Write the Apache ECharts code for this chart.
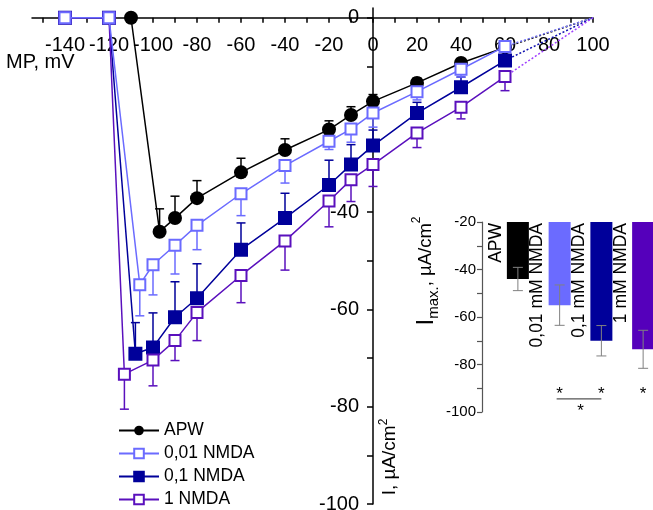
<!DOCTYPE html>
<html><head><meta charset="utf-8">
<script src="https://cdn.jsdelivr.net/npm/echarts@6/dist/echarts.min.js"></script>
<style>html,body{margin:0;padding:0;background:#fff}#c{width:653px;height:510px}</style>
</head><body><div id="c"></div>
<script>
// ---- data ----
const seriesNames = ['APW', '0,01 NMDA', '0,1 NMDA', '1 NMDA'];
const seriesColors = ['#000000', '#6b6bff', '#00009a', '#5a10bd'];
const dottedColors = ['#000000', '#7a7aff', '#1010b0', '#a040ff'];

const apwX   = [-110, -97, -90, -80, -60, -40, -20, -10, 0, 20, 40, 60];
const apwY   = [0, -44.0, -41.2, -37.1, -31.8, -27.2, -23.0, -20.0, -17.2, -13.4, -9.3, -6.1];
const apwErr = [0, 4.7, 4.5, 3.6, 2.9, 2.3, 1.8, 1.7, 1.4, 1.0, 0.9, 0.8];   // upward

const n001X   = [-140, -120, -106, -100, -90, -80, -60, -40, -20, -10, 0, 20, 40, 60];
const n001Y   = [0, 0, -54.9, -50.8, -46.8, -42.7, -36.2, -30.4, -25.4, -22.9, -19.6, -15.2, -10.6, -5.9];
const n001Err = [0, 0, 6.4, 6.2, 5.9, 5.0, 4.5, 3.6, 1.7, 2.7, 2.9, 1.7, 1.6, 1.2]; // downward

const n01X   = [-140, -120, -108, -100, -90, -80, -60, -40, -20, -10, 0, 20, 40, 60];
const n01Y   = [0, 0, -69.1, -67.8, -61.6, -57.7, -47.7, -41.2, -34.4, -30.2, -26.3, -19.6, -14.3, -8.8];
const n01Err = [0, 0, 6.4, 7.1, 7.3, 7.1, 5.5, 5.1, 5.1, 4.1, 3.2, 2.2, 2.1, 1.8]; // upward

const n1X   = [-140, -120, -113, -100, -90, -80, -60, -40, -20, -10, 0, 20, 40, 60];
const n1Y   = [0, 0, -73.3, -70.4, -66.4, -60.6, -53.0, -45.9, -37.7, -33.3, -30.2, -23.7, -18.4, -12.1];
const n1Err = [0, 0, 7.2, 5.3, 4.1, 5.8, 5.6, 6.0, 5.3, 4.5, 4.5, 3.0, 2.4, 2.9]; // downward

const reversalPotential = 100; // extrapolated zero-current point (mV)

const xMin = -155, xMax = 100, yMin = -100, yMax = 2;
const xTickLabels = [-140, -120, -100, -80, -60, -40, -20, 0, 20, 40, 60, 80, 100];
const xTicks = [-150, -140, -130, -120, -110, -100, -90, -80, -70, -60, -50, -40, -30, -20, -10, 0, 10, 20, 30, 40, 50, 60, 70, 80, 90, 100];
const yTickLabels = [-100, -80, -60, -40, 0];
const yTicks = [-100, -90, -80, -70, -60, -50, -40, -30, -20, -10, 0];

const imaxCats = ['APW', '0,01 mM NMDA', '0,1 mM NMDA', '1 mM NMDA'];
const imaxVals = [-44, -55, -70, -73.6];
const imaxErr  = [4.9, 8.5, 6.4, 8.0];
const imaxColors = ['#000000', '#6b6bff', '#00009a', '#5500bb'];
const inTickLabels = [-100, -80, -60, -40, -20];
const inTicks = [-100, -90, -80, -70, -60, -50, -40, -30, -20];

// ---- build ----
const FONT = 'Liberation Sans, Arial, sans-serif';
const W = 653, H = 510;
const G0 = { left: 32, right: 60, top: 8, bottom: 6 };
const g0w = W - G0.left - G0.right, g0h = H - G0.top - G0.bottom;
const yAxisShift = g0w * (0 - xMin) / (xMax - xMin);   // y axis sits at x = 0
const xAxisShift = g0h * (yMax - 0) / (yMax - yMin);   // x axis sits at y = 0

const zip = (a, b, c) => a.map((v, i) => c ? [v, b[i], c[i]] : [v, b[i]]);

function errRender(dir, color) {
  return function (params, api) {
    const x = api.value(0), y = api.value(1), e = api.value(2);
    if (!e) return null;
    const p0 = api.coord([x, y]);
    const p1 = api.coord([x, y + dir * e]);
    return {
      type: 'group', children: [
        { type: 'line', shape: { x1: p0[0], y1: p0[1], x2: p1[0], y2: p1[1] }, style: { stroke: color, lineWidth: 1.5 } },
        { type: 'line', shape: { x1: p1[0] - 4.5, y1: p1[1], x2: p1[0] + 4.5, y2: p1[1] }, style: { stroke: color, lineWidth: 1.5 } }
      ]
    };
  };
}

const groups = [
  { name: seriesNames[0], x: apwX, y: apwY, e: apwErr, dir: 1, symbol: 'circle', size: 14, fill: seriesColors[0] },
  { name: seriesNames[1], x: n001X, y: n001Y, e: n001Err, dir: -1, symbol: 'rect', size: 11, fill: '#ffffff' },
  { name: seriesNames[2], x: n01X, y: n01Y, e: n01Err, dir: 1, symbol: 'rect', size: 12, fill: seriesColors[2] },
  { name: seriesNames[3], x: n1X, y: n1Y, e: n1Err, dir: -1, symbol: 'rect', size: 11, fill: '#ffffff' }
];

const series = [];
const order = [0, 2, 3, 1]; // light blue drawn on top
order.forEach((gi, k) => {
  const g = groups[gi];
  const col = seriesColors[gi];
  series.push({
    type: 'custom', xAxisIndex: 0, yAxisIndex: 0, z: 2 + k * 3,
    renderItem: errRender(g.dir, col),
    encode: { x: 0, y: 1 },
    data: zip(g.x, g.y, g.e), silent: true
  });
  const last = g.x.length - 1;
  series.push({
    type: 'line', xAxisIndex: 0, yAxisIndex: 0, z: 2 + k * 3,
    data: [[g.x[last], g.y[last]], [reversalPotential, 0]],
    symbol: 'none', silent: true,
    lineStyle: { color: dottedColors[gi], width: 1.5, type: [2, 2] }
  });
  series.push({
    name: g.name, type: 'line', xAxisIndex: 0, yAxisIndex: 0, z: 3 + k * 3,
    data: zip(g.x, g.y),
    symbol: g.symbol, symbolSize: g.size,
    lineStyle: { color: col, width: 1.5 },
    itemStyle: { color: g.fill, borderColor: col, borderWidth: g.symbol === 'circle' ? 0 : 2 },
    color: col
  });
});

// inset
series.push({
  type: 'bar', xAxisIndex: 1, yAxisIndex: 1, barWidth: 22, clip: true,
  data: imaxVals.map((v, i) => ({ value: v, itemStyle: { color: imaxColors[i] } })),
  label: {
    show: true, position: [-11, 1], rotate: 90, align: 'right', verticalAlign: 'middle',
    formatter: '{b}', fontSize: 17.5, color: '#000', fontFamily: FONT
  }
});
series.push({
  type: 'custom', xAxisIndex: 1, yAxisIndex: 1, z: 5, silent: true,
  encode: { x: 0, y: 1 },
  data: imaxVals.map((v, i) => [i, v, imaxErr[i]]),
  renderItem: function (params, api) {
    const i = api.value(0), v = api.value(1), e = api.value(2);
    const a = api.coord([i, v + e]), b = api.coord([i, v - e]);
    const st = { stroke: '#808080', lineWidth: 1 };
    return { type: 'group', children: [
      { type: 'line', shape: { x1: a[0], y1: a[1], x2: b[0], y2: b[1] }, style: st },
      { type: 'line', shape: { x1: a[0] - 5, y1: a[1], x2: a[0] + 5, y2: a[1] }, style: st },
      { type: 'line', shape: { x1: b[0] - 5, y1: b[1], x2: b[0] + 5, y2: b[1] }, style: st }
    ]};
  }
});

const option = {
  animation: false,
  backgroundColor: '#ffffff',
  textStyle: { fontFamily: FONT },
  grid: [
    Object.assign({ outerBoundsMode: 'none', containLabel: false }, G0),
    { left: 497, width: 167, top: 222, bottom: 98, outerBoundsMode: 'none', containLabel: false }
  ],
  xAxis: [
    {
      type: 'value', gridIndex: 0, min: xMin, max: xMax, position: 'top', offset: -xAxisShift,
      axisLine: { onZero: false, lineStyle: { color: '#000', width: 1.5 } },
      axisTick: { show: true, inside: true, length: 5, customValues: xTicks, lineStyle: { color: '#000', width: 1.5 } },
      axisLabel: { inside: true, customValues: xTickLabels, fontSize: 20, color: '#000', margin: 18 },
      splitLine: { show: false }
    },
    {
      type: 'category', gridIndex: 1, data: imaxCats,
      axisLine: { show: false }, axisTick: { show: false }, axisLabel: { show: false }
    }
  ],
  yAxis: [
    {
      type: 'value', gridIndex: 0, min: yMin, max: yMax, position: 'left', offset: -yAxisShift,
      axisLine: { onZero: false, lineStyle: { color: '#000', width: 1.5 } },
      axisTick: { show: true, length: 6, customValues: yTicks, lineStyle: { color: '#000', width: 1.5 } },
      axisLabel: { customValues: yTickLabels, fontSize: 20, color: '#000', margin: 14 },
      splitLine: { show: false }
    },
    {
      type: 'value', gridIndex: 1, min: -100, max: -20, offset: 15,
      axisLine: { show: true, lineStyle: { color: '#555', width: 1.2 } },
      axisTick: { show: true, length: 5, customValues: inTicks, lineStyle: { color: '#555', width: 1.2 } },
      axisLabel: { customValues: inTickLabels, fontSize: 15, color: '#000', margin: 6 },
      splitLine: { show: false }
    }
  ],
  legend: {
    data: seriesNames, orient: 'vertical', left: 118, top: 421, padding: 0,
    itemWidth: 40, itemHeight: 12, itemGap: 4,
    textStyle: { fontSize: 17.5, lineHeight: 19, color: '#000', fontFamily: FONT }
  },
  series: series,
  graphic: [
    { type: 'text', left: 6, top: 52, style: { text: 'MP, mV', fontSize: 20, fill: '#000', fontFamily: FONT } },
    { type: 'text', x: 390, y: 457, rotation: Math.PI / 2,
      style: { text: '{a|I, µA/cm}{s|2}', align: 'center', verticalAlign: 'middle', fontFamily: FONT,
        rich: { a: { fontSize: 19, fill: '#000', lineHeight: 25, verticalAlign: 'middle', fontFamily: FONT },
                s: { fontSize: 12, fill: '#000', lineHeight: 25, verticalAlign: 'top', fontFamily: FONT } } } },
    { type: 'text', x: 426, y: 271, rotation: Math.PI / 2,
      style: { text: '{a|I}{b|max.}{c|, µA/cm}{s|2}', align: 'center', verticalAlign: 'middle', fontFamily: FONT,
        rich: { a: { fontSize: 24, fill: '#000', lineHeight: 30, verticalAlign: 'middle', fontFamily: FONT },
                b: { fontSize: 15, fill: '#000', lineHeight: 30, verticalAlign: 'bottom', fontFamily: FONT },
                c: { fontSize: 18.5, fill: '#000', lineHeight: 30, verticalAlign: 'middle', fontFamily: FONT },
                s: { fontSize: 12, fill: '#000', lineHeight: 30, verticalAlign: 'top', fontFamily: FONT } } } }
  ]
};

const chart = echarts.init(document.getElementById('c'), null, { renderer: 'canvas' });
chart.setOption(option);

// significance annotations in the inset (data coordinates of the inset grid)
const sigStars = [[1, -92.5], [2, -92.5], [3, -92.5]];
const sigBar = [[1, -94.5], [2, -94.5]];
const sigStarBelow = -99.5;
const px = (p) => chart.convertToPixel({ gridIndex: 1 }, p);
const extra = [];
sigStars.forEach(s => {
  const p = px(s);
  extra.push({ type: 'text', x: p[0], y: p[1], style: { text: '*', fontSize: 17, fill: '#000', align: 'center', verticalAlign: 'middle', fontFamily: FONT } });
});
const b0 = px(sigBar[0]), b1 = px(sigBar[1]);
extra.push({ type: 'line', shape: { x1: b0[0] - 3, y1: b0[1], x2: b1[0], y2: b1[1] }, style: { stroke: '#555', lineWidth: 1.2 } });
const pb = px([1, sigStarBelow]), pb2 = px([2, sigStarBelow]);
extra.push({ type: 'text', x: (pb[0] + pb2[0]) / 2, y: pb[1], style: { text: '*', fontSize: 17, fill: '#000', align: 'center', verticalAlign: 'middle', fontFamily: FONT } });
chart.setOption({ graphic: option.graphic.concat(extra) });
</script>
</body></html>
